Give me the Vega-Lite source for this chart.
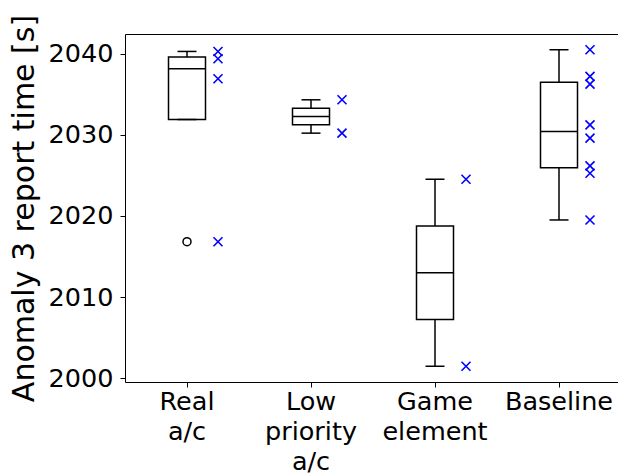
{
  "$schema": "https://vega.github.io/schema/vega-lite/v6.json",
  "width": 493,
  "height": 348,
  "autosize": {"type": "none"},
  "padding": {"left": 125, "top": 34, "right": 0, "bottom": 91},
  "background": "white",
  "config": {
    "view": {"stroke": null},
    "font": "DejaVu Sans",
    "axis": {
      "grid": false,
      "domainColor": "black",
      "domainWidth": 1,
      "tickColor": "black",
      "tickWidth": 1,
      "labelColor": "black",
      "titleColor": "black"
    }
  },
  "data": {
    "values": [
      {"group": "Real a/c", "time": 2040.28},
      {"group": "Real a/c", "time": 2039.38},
      {"group": "Real a/c", "time": 2036.91},
      {"group": "Real a/c", "time": 2016.83},
      {"group": "Low priority a/c", "time": 2034.32},
      {"group": "Low priority a/c", "time": 2030.21},
      {"group": "Game element", "time": 2024.53},
      {"group": "Game element", "time": 2001.48},
      {"group": "Baseline", "time": 2040.49},
      {"group": "Baseline", "time": 2037.2},
      {"group": "Baseline", "time": 2036.26},
      {"group": "Baseline", "time": 2031.23},
      {"group": "Baseline", "time": 2029.59},
      {"group": "Baseline", "time": 2026.17},
      {"group": "Baseline", "time": 2025.27},
      {"group": "Baseline", "time": 2019.51}
    ]
  },
  "layer": [
    {
      "transform": [
        {"joinaggregate": [
          {"op": "q1", "field": "time", "as": "q1"},
          {"op": "median", "field": "time", "as": "med"},
          {"op": "q3", "field": "time", "as": "q3"}
        ], "groupby": ["group"]},
        {"filter": "datum.time >= datum.q1 - 1.5 * (datum.q3 - datum.q1) && datum.time <= datum.q3 + 1.5 * (datum.q3 - datum.q1)"},
        {"aggregate": [
          {"op": "min", "field": "time", "as": "inmin"},
          {"op": "max", "field": "time", "as": "inmax"}
        ], "groupby": ["group", "q1", "med", "q3"]},
        {"calculate": "min(datum.inmin, datum.q1)", "as": "whislo"},
        {"calculate": "max(datum.inmax, datum.q3)", "as": "whishi"}
      ],
      "layer": [
        {
          "mark": {"type": "rule", "color": "black", "strokeWidth": 1.5},
          "encoding": {
            "x": {
              "field": "group", "type": "nominal",
              "sort": ["Real a/c", "Low priority a/c", "Game element", "Baseline"],
              "scale": {"type": "band", "paddingInner": 0, "paddingOuter": 0, "range": [0, 496]},
              "axis": {
                "title": null, "labelAngle": 0,
                "labelExpr": "split(datum.label, ' ')",
                "labelFontSize": 25.5, "labelLineHeight": 30,
                "tickSize": 5, "labelPadding": 2
              }
            },
            "y": {
              "field": "whislo", "type": "quantitative",
              "title": "Anomaly 3 report time [s]",
              "scale": {"domain": [1999.54, 2042.43], "nice": false, "zero": false},
              "axis": {
                "values": [2000, 2010, 2020, 2030, 2040], "format": "d",
                "tickSize": 5, "labelFontSize": 25.5, "labelPadding": 7,
                "titleFontSize": 30, "titleFontWeight": "normal", "titlePadding": 9
              }
            },
            "y2": {"field": "whishi"}
          }
        },
        {
          "mark": {"type": "bar", "width": 37, "fill": "white", "stroke": "black", "strokeWidth": 1.5},
          "encoding": {
            "x": {
              "field": "group", "type": "nominal",
              "sort": ["Real a/c", "Low priority a/c", "Game element", "Baseline"],
              "axis": {"orient": "top", "title": null, "labels": false, "ticks": false, "domain": true}
            },
            "y": {"field": "q1", "type": "quantitative", "title": "Anomaly 3 report time [s]"},
            "y2": {"field": "q3"}
          }
        },
        {
          "mark": {"type": "tick", "size": 37, "thickness": 1.5, "color": "black", "opacity": 1},
          "encoding": {
            "x": {"field": "group", "type": "nominal", "sort": ["Real a/c", "Low priority a/c", "Game element", "Baseline"], "axis": null},
            "y": {"field": "med", "type": "quantitative", "title": "Anomaly 3 report time [s]"}
          }
        },
        {
          "mark": {"type": "tick", "size": 19, "thickness": 1.5, "color": "black", "opacity": 1},
          "encoding": {
            "x": {"field": "group", "type": "nominal", "sort": ["Real a/c", "Low priority a/c", "Game element", "Baseline"], "axis": null},
            "y": {"field": "whislo", "type": "quantitative", "title": "Anomaly 3 report time [s]"}
          }
        },
        {
          "mark": {"type": "tick", "size": 19, "thickness": 1.5, "color": "black", "opacity": 1},
          "encoding": {
            "x": {"field": "group", "type": "nominal", "sort": ["Real a/c", "Low priority a/c", "Game element", "Baseline"], "axis": null},
            "y": {"field": "whishi", "type": "quantitative", "title": "Anomaly 3 report time [s]"}
          }
        }
      ],
      "resolve": {"axis": {"x": "independent"}}
    },
    {
      "transform": [
        {"joinaggregate": [
          {"op": "q1", "field": "time", "as": "q1"},
          {"op": "q3", "field": "time", "as": "q3"}
        ], "groupby": ["group"]},
        {"filter": "datum.time < datum.q1 - 1.5 * (datum.q3 - datum.q1) || datum.time > datum.q3 + 1.5 * (datum.q3 - datum.q1)"}
      ],
      "mark": {"type": "point", "shape": "circle", "size": 64, "filled": false, "stroke": "black", "strokeWidth": 1.5, "opacity": 1},
      "encoding": {
        "x": {"field": "group", "type": "nominal", "sort": ["Real a/c", "Low priority a/c", "Game element", "Baseline"], "axis": null},
        "y": {"field": "time", "type": "quantitative", "title": "Anomaly 3 report time [s]"}
      }
    },
    {
      "mark": {"type": "point", "shape": "M-1,-1L1,1M-1,1L1,-1", "size": 81, "filled": false, "stroke": "blue", "strokeWidth": 1.6, "opacity": 1},
      "encoding": {
        "x": {"field": "group", "type": "nominal", "sort": ["Real a/c", "Low priority a/c", "Game element", "Baseline"], "bandPosition": 0.75, "axis": null},
        "y": {"field": "time", "type": "quantitative", "title": "Anomaly 3 report time [s]"}
      }
    }
  ],
  "resolve": {"axis": {"x": "independent"}}
}
